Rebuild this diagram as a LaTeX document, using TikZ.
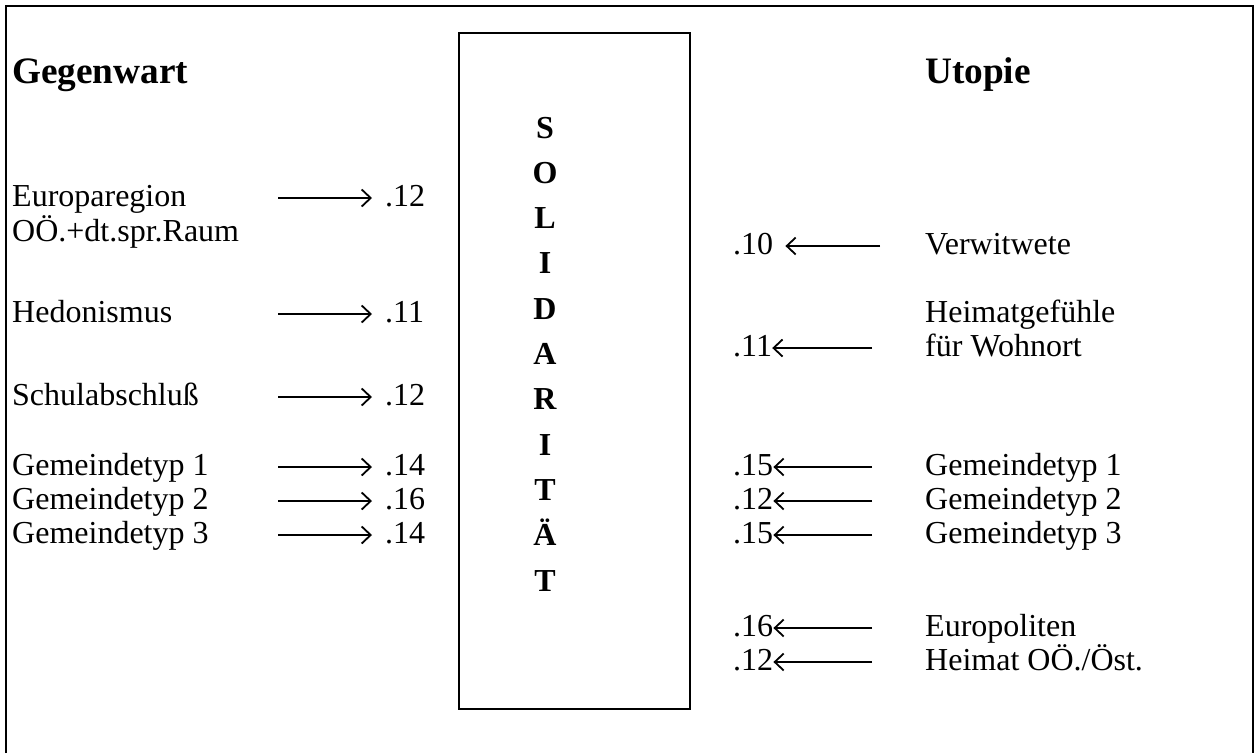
\documentclass[tikz,border=0pt]{standalone}
\usepackage{fontspec}
\setmainfont{Liberation Serif}
\usetikzlibrary{arrows.meta}

\begin{document}
\begin{tikzpicture}[x=1pt,y=-1pt,
    item/.style={anchor=base west, inner sep=0pt, font=\fontsize{32}{35}\selectfont},
    num/.style={item},
    title/.style={anchor=base west, inner sep=0pt, font=\fontsize{37.3}{40}\selectfont\bfseries},
    letter/.style={anchor=base, inner sep=0pt, font=\fontsize{32}{35}\selectfont\bfseries},
    arr/.style={line width=1.6pt, -{Straight Barb[length=9pt,width=17pt,line width=1.8pt]}}]
  \useasboundingbox (0,0) rectangle (1255,753);

  % Outer frame (open at the bottom)
  \draw[line width=2pt] (6,753) -- (6,6) -- (1253,6) -- (1253,753);

  % Middle box with the word written downwards
  \draw[line width=2.6pt] (459,33) rectangle (690,709);
  \node[letter] (w1) at (545,138) {S};
  \node[letter] (w2) at (545,183.3) {O};
  \node[letter] (w3) at (545,228.6) {L};
  \node[letter] (w4) at (545,273.9) {I};
  \node[letter] (w5) at (545,319.2) {D};
  \node[letter] (w6) at (545,364.5) {A};
  \node[letter] (w7) at (545,409.8) {R};
  \node[letter] (w8) at (545,455.1) {I};
  \node[letter] (w9) at (545,500.4) {T};
  \node[letter] (w10) at (545,545.7) {Ä};
  \node[letter] (w11) at (545,591) {T};

  % Left side: Gegenwart
  \node[title] (gegen) at (12,83) {Gegenwart};
  \node[item] (l1) at (12,206) {Europaregion};
  \node[item] (l1b) at (12,241) {OÖ.+dt.spr.Raum};
  \node[item] (l2) at (12,322) {Hedonismus};
  \node[item] (l3) at (12,405) {Schulabschluß};
  \node[item] (l4) at (12,475) {Gemeindetyp 1};
  \node[item] (l5) at (12,509) {Gemeindetyp 2};
  \node[item] (l6) at (12,543) {Gemeindetyp 3};

  \node[num] (nl1) at (385,206) {.12};
  \node[num] (nl2) at (385,322) {.11};
  \node[num] (nl3) at (385,405) {.12};
  \node[num] (nl4) at (385,475) {.14};
  \node[num] (nl5) at (385,509) {.16};
  \node[num] (nl6) at (385,543) {.14};

  \coordinate (la1) at (278,198);
  \coordinate (la2) at (278,314);
  \coordinate (la3) at (278,397);
  \coordinate (la4) at (278,467);
  \coordinate (la5) at (278,501);
  \coordinate (la6) at (278,535);

  \draw[arr, shorten >=13pt] (la1) -- (la1 -| nl1.west);
  \draw[arr, shorten >=13pt] (la2) -- (la2 -| nl2.west);
  \draw[arr, shorten >=13pt] (la3) -- (la3 -| nl3.west);
  \draw[arr, shorten >=13pt] (la4) -- (la4 -| nl4.west);
  \draw[arr, shorten >=13pt] (la5) -- (la5 -| nl5.west);
  \draw[arr, shorten >=13pt] (la6) -- (la6 -| nl6.west);

  % Right side: Utopie
  \node[title] (utop) at (925,83) {Utopie};
  \node[item] (r1) at (925,254) {Verwitwete};
  \node[item] (r2a) at (925,322) {Heimatgefühle};
  \node[item] (r2) at (925,356) {für Wohnort};
  \node[item] (r3) at (925,475) {Gemeindetyp 1};
  \node[item] (r4) at (925,509) {Gemeindetyp 2};
  \node[item] (r5) at (925,543) {Gemeindetyp 3};
  \node[item] (r6) at (925,636) {Europoliten};
  \node[item] (r7) at (925,670) {Heimat OÖ./Öst.};

  \node[num] (nr1) at (733,254) {.10};
  \node[num] (nr2) at (733,356) {.11};
  \node[num] (nr3) at (733,475) {.15};
  \node[num] (nr4) at (733,509) {.12};
  \node[num] (nr5) at (733,543) {.15};
  \node[num] (nr6) at (733,636) {.16};
  \node[num] (nr7) at (733,670) {.12};

  \coordinate (ra1) at (880,246);
  \coordinate (ra2) at (872,348);
  \coordinate (ra3) at (872,467);
  \coordinate (ra4) at (872,501);
  \coordinate (ra5) at (872,535);
  \coordinate (ra6) at (872,628);
  \coordinate (ra7) at (872,662);

  \draw[arr, shorten >=12pt] (ra1) -- (ra1 -| nr1.east);
  \draw[arr] (ra2) -- (ra2 -| nr2.east);
  \draw[arr] (ra3) -- (ra3 -| nr3.east);
  \draw[arr] (ra4) -- (ra4 -| nr4.east);
  \draw[arr] (ra5) -- (ra5 -| nr5.east);
  \draw[arr] (ra6) -- (ra6 -| nr6.east);
  \draw[arr] (ra7) -- (ra7 -| nr7.east);
\end{tikzpicture}
\end{document}
